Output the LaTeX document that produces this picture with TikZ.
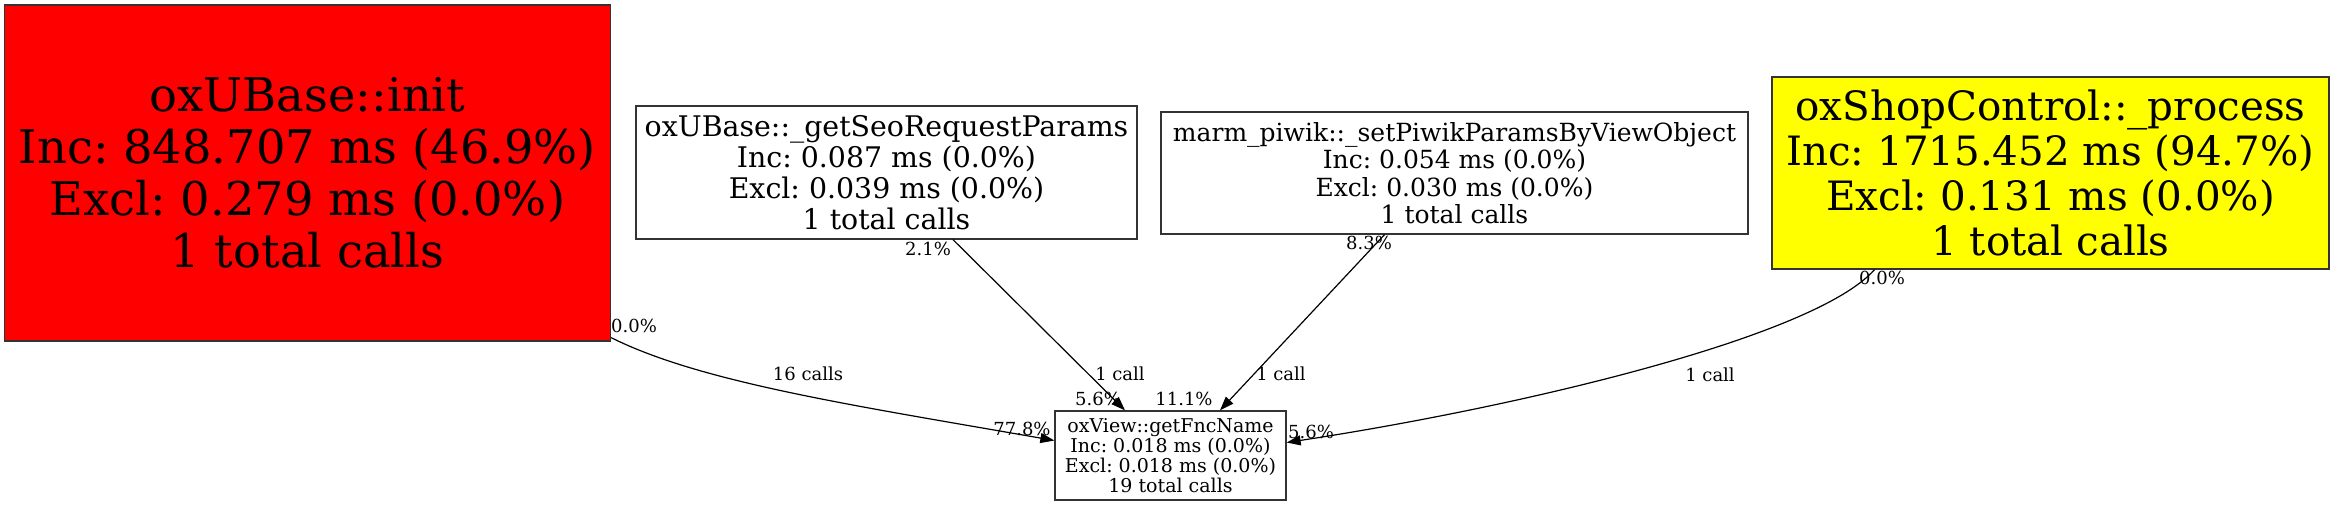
\documentclass[tikz,border=0pt]{standalone}
\usepackage{fontspec}
\setmainfont{DejaVu Serif}
\usetikzlibrary{arrows.meta,calc}
\definecolor{hotred}{RGB}{255,0,0}
\definecolor{warmyellow}{RGB}{255,255,0}
\tikzset{
    >={Triangle[length=7pt,width=5pt]},
    funcbox/.style={
        rectangle,
        draw=black!80, line width=0.65pt,
        inner sep=0pt,
        align=center
    },
    callline/.style={draw, ->, line width=0.6pt},
    edgelabel/.style={inner sep=0pt, font=\fontsize{9}{10}\selectfont}
}
\frenchspacing

\begin{document}
\begin{tikzpicture}[x=0.5pt, y=-0.5pt]
    \path[fill=white, use as bounding box] (0,0) rectangle (2335,507);

    % callers, all on one rank
    \node[funcbox, fill=hotred, minimum width=303pt, minimum height=168pt,
          font=\fontsize{23.2}{26}\selectfont] (init) at (307.5,173)
        {oxUBase::init\\Inc: 848.707 ms (46.9\%)\\Excl: 0.279 ms (0.0\%)\\1 total calls};
    \node[funcbox, minimum width=250.5pt, minimum height=66.5pt,
          font=\fontsize{14.2}{15.5}\selectfont] (seo) at (886.5,172.5)
        {oxUBase::\_getSeoRequestParams\\Inc: 0.087 ms (0.0\%)\\Excl: 0.039 ms (0.0\%)\\1 total calls};
    \node[funcbox, minimum width=293.5pt, minimum height=61pt,
          font=\fontsize{12.5}{13.7}\selectfont] (piwik) at (1454.5,173)
        {marm\_piwik::\_setPiwikParamsByViewObject\\Inc: 0.054 ms (0.0\%)\\Excl: 0.030 ms (0.0\%)\\1 total calls};
    \node[funcbox, fill=warmyellow, minimum width=278.5pt, minimum height=96pt,
          font=\fontsize{20.2}{22.5}\selectfont] (shop) at (2050.5,173)
        {oxShopControl::\_process\\Inc: 1715.452 ms (94.7\%)\\Excl: 0.131 ms (0.0\%)\\1 total calls};

    % callee
    \node[funcbox, minimum width=115.5pt, minimum height=44.5pt,
          font=\fontsize{9.5}{10}\selectfont] (fnc) at (1170.5,455.5)
        {oxView::getFncName\\Inc: 0.018 ms (0.0\%)\\Excl: 0.018 ms (0.0\%)\\19 total calls};

    % calls
    \draw[callline] ([yshift=2pt]init.south east)
        .. controls +(90,45) and +(-200,-35) .. ([yshift=7.5pt]fnc.west);
    \draw[callline] ([xshift=33.25pt]seo.south) -- ([xshift=-22.75pt]fnc.north);
    \draw[callline] ([xshift=-35pt]piwik.south) -- ([xshift=24.75pt]fnc.north);
    \draw[callline] ([xshift=-88pt]shop.south)
        .. controls +(-60,68) and +(230,-35) .. ([yshift=6.5pt]fnc.east);

    % labels
    \node[edgelabel] (init-out) at (634,326) {0.0\%};
    \node[edgelabel] (init-calls) at (808,374) {16 calls};
    \node[edgelabel] (init-in) at (1022,429) {77.8\%};
    \node[edgelabel] (seo-out) at (928,249) {2.1\%};
    \node[edgelabel] (seo-calls) at (1120,374) {1 call};
    \node[edgelabel] (seo-in) at (1098,399) {5.6\%};
    \node[edgelabel] (piwik-out) at (1369,243) {8.3\%};
    \node[edgelabel] (piwik-calls) at (1281,374) {1 call};
    \node[edgelabel] (piwik-in) at (1184,399) {11.1\%};
    \node[edgelabel] (shop-out) at (1882,278) {0.0\%};
    \node[edgelabel] (shop-calls) at (1710,375) {1 call};
    \node[edgelabel] (shop-in) at (1311,432) {5.6\%};
\end{tikzpicture}
\end{document}
